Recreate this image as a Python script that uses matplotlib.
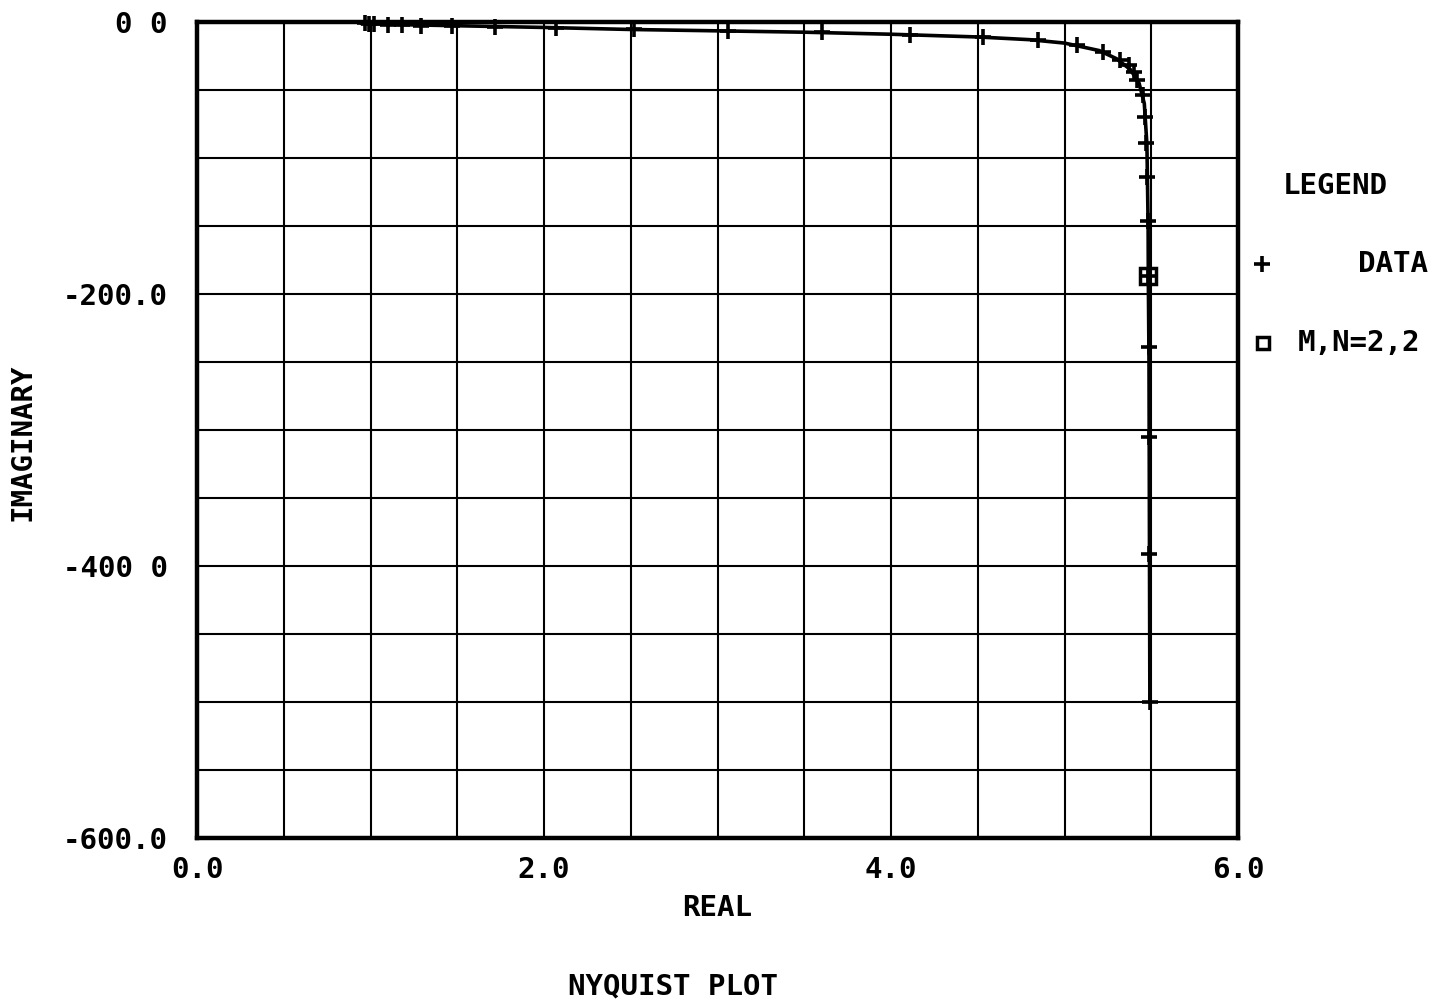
import matplotlib
matplotlib.use("Agg")
import matplotlib.pyplot as plt
from matplotlib.lines import Line2D
import numpy as np

# measured points (+)
data_re = [0.97, 0.99, 1.02, 1.10, 1.18, 1.29, 1.47, 1.72, 2.07, 2.52, 3.06,
           3.60, 4.11, 4.53, 4.85, 5.07, 5.22, 5.32, 5.37, 5.40, 5.42, 5.45,
           5.465, 5.47, 5.476, 5.481, 5.483, 5.487, 5.488, 5.489, 5.49]
data_im = [-1.0, -1.2, -1.5, -2.0, -2.3, -2.6, -3.0, -3.5, -4.5, -5.5, -6.5,
           -7.5, -9.5, -11.0, -13.2, -16.9, -22.0, -28.0, -31.6, -36.8, -42.6, -53.7,
           -70.0, -89.0, -114.0, -146.0, -187.0, -239.0, -305.0, -391.0, -500.0]

# fitted model M,N=2,2
fit_re = [0.95, 1.2, 1.6, 2.0, 2.5, 3.0, 3.5, 4.0, 4.5, 4.8, 5.0, 5.2, 5.3,
          5.38, 5.43, 5.46, 5.475, 5.482, 5.483, 5.487, 5.49, 5.492]
fit_im = [-1.0, -2.0, -3.0, -4.0, -5.5, -6.5, -7.5, -9.0, -11.0, -13.0, -15.5,
          -21.0, -27.0, -35.0, -45.0, -60.0, -90.0, -150.0, -187.0, -250.0, -400.0, -500.0]
fit_mark = [18]

xticks = [0.0, 2.0, 4.0, 6.0]
xtick_labels = ["0.0", "2.0", "4.0", "6.0"]
yticks = [0.0, -200.0, -400.0, -600.0]
ytick_labels = ["0 0", "-200.0", "-400 0", "-600.0"]

FONT = "DejaVu Sans Mono"
FS = 21

fig = plt.figure(figsize=(14.47, 10.08), dpi=100)
ax = fig.add_axes([197 / 1447, 1 - 838 / 1008, 1041 / 1447, 816 / 1008])

ax.set_xlim(0, 6)
ax.set_ylim(-600, 0)

ax.set_xticks(xticks)
ax.set_xticklabels(xtick_labels)
ax.set_yticks(yticks)
ax.set_yticklabels(ytick_labels)
ax.set_xticks(np.arange(0, 6.01, 0.5), minor=True)
ax.set_yticks(np.arange(-600, 0.1, 50), minor=True)
ax.tick_params(which="both", length=0)
ax.tick_params(axis="x", pad=13)
ax.tick_params(axis="y", pad=21)
for lab in ax.get_xticklabels() + ax.get_yticklabels():
    lab.set_fontfamily(FONT)
    lab.set_fontweight("bold")
    lab.set_fontsize(FS)

ax.grid(True, which="both", color="black", linewidth=1.5)
for s in ax.spines.values():
    s.set_linewidth(3.2)

ax.plot(fit_re, fit_im, color="black", linewidth=2.6, marker="s",
        markevery=fit_mark, markersize=12, markerfacecolor="none",
        markeredgewidth=2.5, clip_on=False, zorder=3)
ax.plot(data_re, data_im, linestyle="none", marker="+", color="black",
        markersize=11, markeredgewidth=2.6, clip_on=False, zorder=4)

ax.set_xlabel("REAL", fontfamily=FONT, fontweight="bold", fontsize=FS)
ax.xaxis.set_label_coords(0.5, -0.069)
ax.set_ylabel("IMAGINARY", fontfamily=FONT, fontweight="bold", fontsize=FS)
ax.yaxis.set_label_coords(-0.154, 0.485)

fig.text(673 / 1447, 1 - 986 / 1008, "NYQUIST PLOT", fontfamily=FONT,
         fontweight="bold", fontsize=FS, ha="center", va="center")

# legend block
fig.text(1335 / 1447, 1 - 186 / 1008, "LEGEND", fontfamily=FONT,
         fontweight="bold", fontsize=FS, ha="center", va="center")
fig.add_artist(Line2D([1262 / 1447], [1 - 264 / 1008], marker="+",
                      color="black", markersize=11, markeredgewidth=2.6,
                      transform=fig.transFigure))
fig.text(1358 / 1447, 1 - 264 / 1008, "DATA", fontfamily=FONT,
         fontweight="bold", fontsize=FS, ha="left", va="center")
fig.add_artist(Line2D([1263 / 1447], [1 - 343 / 1008], marker="s",
                      color="black", markersize=9, markeredgewidth=2.5,
                      markerfacecolor="none", transform=fig.transFigure))
fig.text(1298 / 1447, 1 - 343 / 1008, "M,N=2,2", fontfamily=FONT,
         fontweight="bold", fontsize=FS, ha="left", va="center")

fig.savefig("out.png", dpi=100)
